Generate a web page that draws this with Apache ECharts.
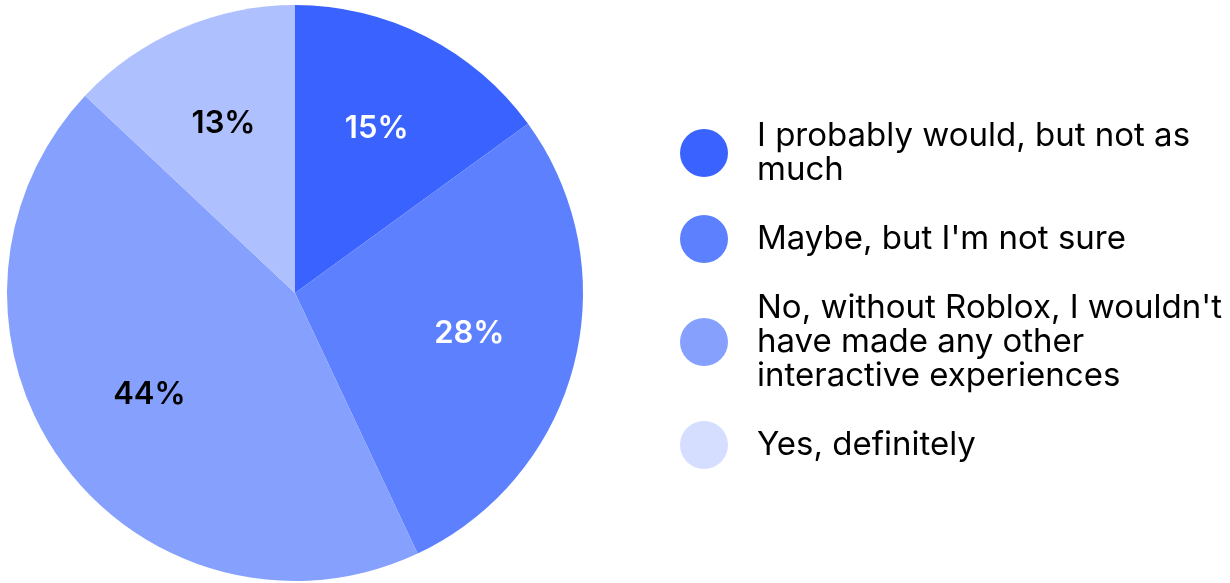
<!DOCTYPE html>
<html>
<head>
<meta charset="utf-8">
<script src="https://cdn.jsdelivr.net/npm/echarts@6/dist/echarts.min.js"></script>
<style>
  html, body { margin: 0; padding: 0; background: #ffffff; }
  #chart { width: 1230px; height: 583px; }
</style>
</head>
<body>
<div id="chart"></div>
<script>
// Survey answers and their shares (percent)
const categories = [
  "I probably would, but not as much",
  "Maybe, but I'm not sure",
  "No, without Roblox, I wouldn't have made any other interactive experiences",
  "Yes, definitely"
];
const shares = [15, 28, 44, 13];
const sliceColors = ["#3a62fe", "#5c80fe", "#86a0fe", "#afc0fe"];
const legendColors = ["#3a62fe", "#5c80fe", "#86a0fe", "#d5defe"];
const labelColors = ["#ffffff", "#ffffff", "#000000", "#000000"];

const FONT = "Inter, 'Noto Sans', sans-serif";
const chart = echarts.init(document.getElementById('chart'), null, { renderer: 'canvas' });

const pieData = categories.map((name, i) => ({
  name: name,
  value: shares[i],
  itemStyle: { color: sliceColors[i] }
}));

const labelData = categories.map((name, i) => ({
  name: name,
  value: shares[i],
  label: { color: labelColors[i] }
}));

chart.setOption({
  animation: false,
  backgroundColor: '#ffffff',
  legend: {
    orient: 'vertical',
    left: 680,
    top: 119,
    padding: 0,
    itemGap: 28,
    itemWidth: 96,
    itemHeight: 48,
    icon: 'circle',
    selectedMode: false,
    data: categories.map((name, i) => ({ name: name, itemStyle: { color: legendColors[i] } })),
    textStyle: {
      fontFamily: FONT,
      fontSize: 33,
      lineHeight: 34,
      color: '#000000',
      width: 488,
      overflow: 'break'
    }
  },
  series: [
    {
      type: 'pie',
      center: [295, 293],
      radius: [0, 288],
      startAngle: 90,
      clockwise: true,
      silent: true,
      label: { show: false },
      labelLine: { show: false },
      itemStyle: { borderWidth: 0 },
      data: pieData
    },
    {
      // transparent ring that only carries the percentage labels
      type: 'pie',
      center: [295, 293],
      radius: [66, 288],
      startAngle: 90,
      clockwise: true,
      silent: true,
      itemStyle: { color: 'rgba(0,0,0,0)', borderWidth: 0 },
      labelLine: { show: false },
      labelLayout: { dy: -4 },
      label: {
        show: true,
        position: 'inside',
        formatter: '{c}%',
        fontFamily: FONT,
        fontSize: 31,
        fontWeight: 600
      },
      data: labelData
    }
  ]
});
</script>
</body>
</html>
